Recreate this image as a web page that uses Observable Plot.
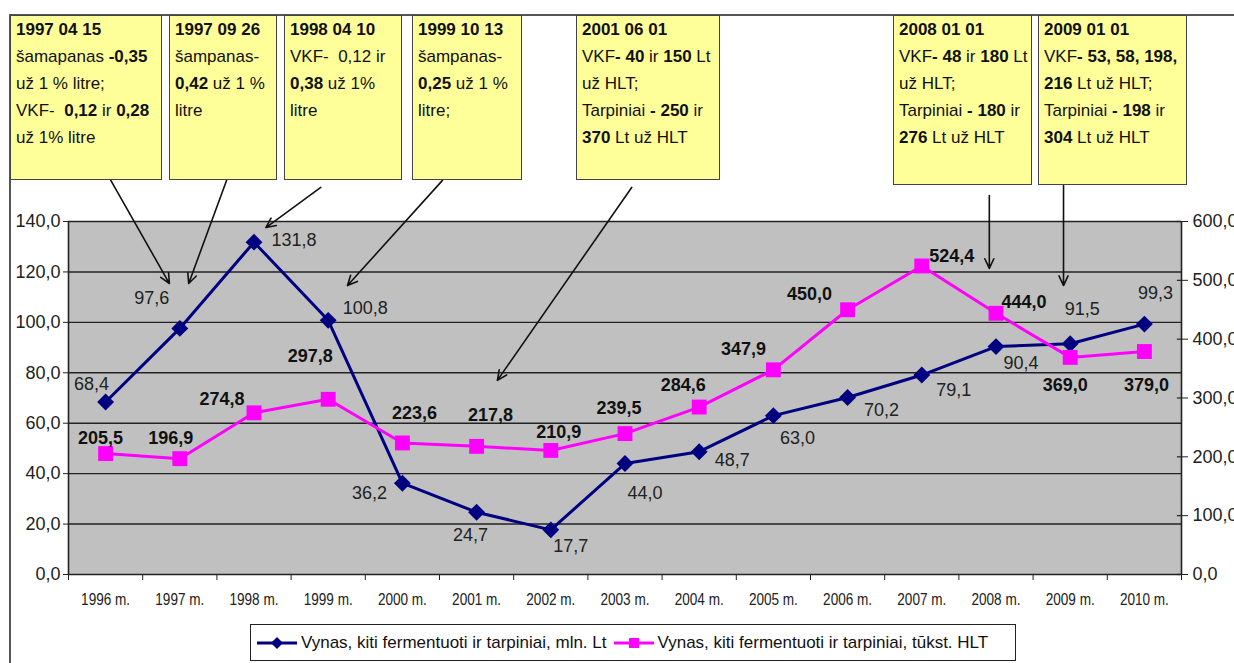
<!DOCTYPE html>
<html>
<head>
<meta charset="utf-8">
<script src="https://cdn.jsdelivr.net/npm/d3@7"></script>
<script src="https://cdn.jsdelivr.net/npm/@observablehq/plot@0.6"></script>
<style>
  html, body { margin: 0; padding: 0; background: #fff; }
  body { width: 1234px; height: 663px; overflow: hidden; font-family: "Liberation Sans", Arial, sans-serif; }
  #wrap { position: relative; width: 1234px; height: 663px; }
  #frame { position: absolute; left: 9px; top: 14px; width: 1240px; height: 660px; border-left: 2px solid #555; border-top: 2px solid #555; }
  #chart { position: absolute; left: 0; top: 0; }
  .note { position: absolute; top: 15px; box-sizing: border-box; background: #ffff99; border: 1.5px solid #444;
          font-size: 17px; line-height: 27px; color: #111; padding: 0 0 0 5px; white-space: nowrap; }
  .note b { font-weight: bold; }
  #legend { position: absolute; left: 250px; top: 624px; width: 766px; height: 37px; box-sizing: border-box;
            border: 1.5px solid #222; background: #fff; display: flex; align-items: center; padding-left: 5px;
            font-size: 17px; color: #111; white-space: nowrap; }
  #legend .item { display: flex; align-items: center; margin-right: 6px; }
  #legend svg { margin-right: 3px; }
</style>
</head>
<body>
<div id="wrap">
  <div id="frame"></div>
  <div id="chart"></div>
  <div id="notes"></div>
  <div id="legend"></div>
</div>
<script>
// ---- data ----
const years = [1996, 1997, 1998, 1999, 2000, 2001, 2002, 2003, 2004, 2005, 2006, 2007, 2008, 2009, 2010];
const yearLabels = ["1996 m.", "1997 m.", "1998 m.", "1999 m.", "2000 m.", "2001 m.", "2002 m.", "2003 m.", "2004 m.", "2005 m.", "2006 m.", "2007 m.", "2008 m.", "2009 m.", "2010 m."];
const valueMlnLt = [68.4, 97.6, 131.8, 100.8, 36.2, 24.7, 17.7, 44.0, 48.7, 63.0, 70.2, 79.1, 90.4, 91.5, 99.3];
const volumeThousHL = [205.5, 196.9, 274.8, 297.8, 223.6, 217.8, 210.9, 239.5, 284.6, 347.9, 450.0, 524.4, 444.0, 369.0, 379.0];
const leftTicks = [0, 20, 40, 60, 80, 100, 120, 140];
const rightTicks = [0, 100, 200, 300, 400, 500, 600];
const seriesNames = ["Vynas, kiti fermentuoti ir tarpiniai, mln. Lt", "Vynas, kiti fermentuoti ir tarpiniai, tūkst. HLT"];

// annotation texts (excise duty changes)
const noteTexts = [
  "<b>1997 04 15</b><br>šamapanas <b>-0,35</b><br>už 1 % litre;<br>VKF-&nbsp; <b>0,12</b> ir <b>0,28</b><br>už 1% litre",
  "<b>1997 09 26</b><br>šampanas-<br><b>0,42</b> už 1 %<br>litre",
  "<b>1998 04 10</b><br>VKF-&nbsp; 0,12 ir<br><b>0,38</b> už 1%<br>litre",
  "<b>1999 10 13</b><br>šampanas-<br><b>0,25</b> už 1 %<br>litre;",
  "<b>2001 06 01</b><br>VKF<b>- 40</b> ir <b>150</b> Lt<br>už HLT;<br>Tarpiniai <b>- 250</b> ir<br><b>370</b> Lt už HLT",
  "<b>2008 01 01</b><br>VKF<b>- 48</b> ir <b>180</b> Lt<br>už HLT;<br>Tarpiniai <b>- 180</b> ir<br><b>276</b> Lt už HLT",
  "<b>2009 01 01</b><br>VKF<b>- 53, 58, 198,</b><br><b>216</b> Lt už HLT;<br>Tarpiniai <b>- 198</b> ir<br><b>304</b> Lt už HLT"
];

// ---- layout (not data) ----
const ratio = 140 / 600; // right axis -> left axis units
const noteBoxes = [[10, 152, 165], [169, 108, 165], [284, 118, 165], [412, 110, 165], [576, 144, 165], [893, 139, 170], [1038, 149, 170]];
// arrows in data units: [x1, y1, x2, y2]
const arrowsAt = [
  [1996.07, 156.3, 1996.86, 115.4],
  [1997.63, 156.3, 1997.12, 115.4],
  [1998.90, 153.5, 1998.16, 137.6],
  [2000.54, 156.3, 1999.26, 114.6],
  [2003.09, 153.5, 2001.28, 77.0],
  [2007.91, 150.3, 2007.91, 121.4],
  [2008.91, 154.3, 2008.91, 114.6]
];
const blueLabelOffsets = [[-14,-18],[-28,-30],[40,-2],[37,-12],[-33,10],[-6,23],[20,16],[20,30],[33,9],[24,23],[34,13],[32,15],[25,17],[12,-35],[11,-31]];
const pinkLabelOffsets = [[-5,-15],[-9,-20],[-32,-14],[-18,-43],[12,-30],[14,-31],[8,-18],[-6,-25],[-16,-22],[-30,-21],[-38,-16],[30,-10],[28,-11],[-5,28],[2,34]];

const fmt = v => v.toFixed(1).replace(".", ",");
const navy = "#000080", magenta = "#ff00ff";

const rows = years.map((y, i) => ({year: y, label: yearLabels[i], mln: valueMlnLt[i], hl: volumeThousHL[i]}));
const bounds = d3.range(years.length + 1).map(i => years[0] - 0.5 + i);
const xMax = bounds[bounds.length - 1];

const blueLabels = rows.map((d, i) => Plot.text([d], {
  x: "year", y: "mln", text: d => fmt(d.mln), dx: blueLabelOffsets[i][0], dy: blueLabelOffsets[i][1],
  fontSize: 18, fill: "#222"
}));
const pinkLabels = rows.map((d, i) => Plot.text([d], {
  x: "year", y: d => d.hl * ratio, text: d => fmt(d.hl), dx: pinkLabelOffsets[i][0], dy: pinkLabelOffsets[i][1],
  fontSize: 18, fontWeight: "bold", fill: "#111"
}));

const chart = Plot.plot({
  width: 1234, height: 620,
  marginTop: 221, marginBottom: 46, marginLeft: 68, marginRight: 53,
  style: {fontFamily: "'Liberation Sans', Arial, sans-serif", background: "transparent", color: "#222"},
  x: {type: "linear", domain: [bounds[0], xMax], axis: null},
  y: {domain: [0, 140], axis: null},
  marks: [
    Plot.rect([0], {x1: bounds[0], x2: xMax, y1: 0, y2: 140, fill: "#c0c0c0"}),
    Plot.ruleY(leftTicks, {stroke: "#222", strokeWidth: 1.4}),
    Plot.ruleX([bounds[0], xMax], {y1: 0, y2: 140, stroke: "#222", strokeWidth: 1.6}),
    Plot.axisY(leftTicks, {anchor: "left", label: null, tickSize: 5, tickPadding: 3, fontSize: 18, tickFormat: fmt, stroke: "#222"}),
    Plot.axisY(rightTicks.map(v => v * ratio), {anchor: "right", label: null, tickSize: 6, tickPadding: 5, fontSize: 18,
      tickFormat: v => fmt(Math.round(v / ratio * 10) / 10), stroke: "#222"}),
    Plot.ruleY(rightTicks.map(v => v * ratio), {x1: xMax - 0.055, x2: xMax, stroke: "#222", strokeWidth: 1.2}),
    Plot.axisX(bounds, {anchor: "bottom", label: null, tickSize: 6, tickFormat: () => "", stroke: "#222"}),
    Plot.axisX(years, {anchor: "bottom", label: null, tickSize: 0, tickPadding: 18, fontSize: 17, tickFormat: (y) => yearLabels[years.indexOf(y)]}),
    Plot.line(rows, {x: "year", y: "mln", stroke: navy, strokeWidth: 3}),
    Plot.line(rows, {x: "year", y: d => d.hl * ratio, stroke: magenta, strokeWidth: 3}),
    Plot.dot(rows, {x: "year", y: "mln", symbol: "diamond2", r: 7.6, fill: navy, stroke: "none"}),
    Plot.dot(rows, {x: "year", y: d => d.hl * ratio, symbol: "square", r: 8.4, fill: magenta, stroke: "none"}),
    ...blueLabels,
    ...pinkLabels,
    Plot.arrow(arrowsAt, {x1: d => d[0], y1: d => d[1], x2: d => d[2], y2: d => d[3], stroke: "#111", strokeWidth: 1.6, headLength: 10, headAngle: 50})
  ]
});
document.getElementById("chart").appendChild(chart);

// category labels: full size but condensed like the original
d3.select(chart).selectAll("text")
  .filter(function () { return yearLabels.includes(this.textContent.trim()); })
  .style("font-size", "17px")
  .attr("textLength", 49).attr("lengthAdjust", "spacingAndGlyphs");

// annotation boxes
const notes = document.getElementById("notes");
noteTexts.forEach((t, i) => {
  const [left, w, h] = noteBoxes[i];
  const div = document.createElement("div");
  div.className = "note";
  div.style.left = left + "px"; div.style.width = w + "px"; div.style.height = h + "px";
  div.innerHTML = t;
  notes.appendChild(div);
});

// legend
const legend = document.getElementById("legend");
const icons = [
  `<svg width="42" height="14"><line x1="1" y1="7" x2="41" y2="7" stroke="${navy}" stroke-width="3"/><path d="M21 1 L27 7 L21 13 L15 7 Z" fill="${navy}"/></svg>`,
  `<svg width="42" height="14"><line x1="1" y1="7" x2="41" y2="7" stroke="${magenta}" stroke-width="3"/><rect x="16" y="2" width="10" height="10" fill="${magenta}"/></svg>`
];
seriesNames.forEach((n, i) => {
  const s = document.createElement("span");
  s.className = "item";
  s.innerHTML = icons[i] + `<span>${n}</span>`;
  legend.appendChild(s);
});
</script>
</body>
</html>
